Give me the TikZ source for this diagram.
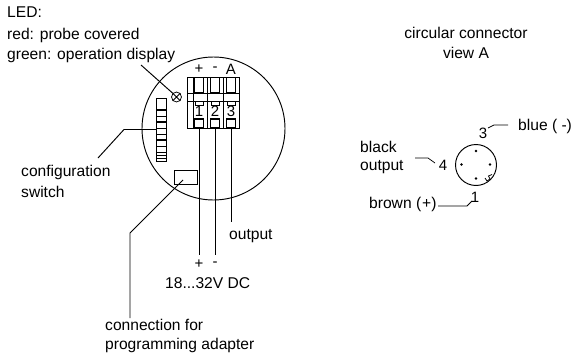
\documentclass[tikz,border=0pt]{standalone}
\usepackage{fontspec}
\setmainfont{Liberation Sans}
\tikzset{
 lbl/.style={inner sep=0pt,anchor=west,font=\fontsize{15.6}{18}\selectfont},
 ctr/.style={inner sep=0pt,anchor=center,font=\fontsize{15.6}{18}\selectfont},
 sm/.style={inner sep=0pt,anchor=center,font=\fontsize{15}{18}\selectfont},
 ln/.style={line width=0.95pt,black},
 thin1/.style={line width=0.75pt,black},
}
\begin{document}
\begin{tikzpicture}[x=1pt,y=-1pt]
\useasboundingbox (0,0) rectangle (571,356);
\fill[white] (0,0) rectangle (571,356);
% labels
\node[lbl] (t1) at (7,12) {LED:};
\node[lbl] (t2) at (7,35) {red: probe covered};
\node[lbl] (t3) at (7,55) {green: operation display};
\node[lbl] (t4) at (21,172) {configuration};
\node[lbl] (t5) at (21,192) {switch};
\node[lbl] (t6) at (229,236) {output};
\node[sm] (p1) at (199,264) {+};
\node[sm] (p2) at (215,264) {-};
\node[lbl] (t7) at (165,283) {18...32V DC};
\node[lbl] (t8) at (105,325) {connection for};
\node[lbl] (t9) at (105,345) {programming adapter};
\node[ctr] (t10) at (466,33) {circular connector};
\node[ctr] (t11) at (466,53) {view A};
\node[lbl] (t12) at (518,126) {blue ( -)};
\node[lbl] (t13) at (360,147) {black};
\node[lbl] (t14) at (360,167) {output};
\node[lbl] (t15) at (369,204) {brown (\kern1pt+)};
\node[sm] (n3) at (483,133) {3};
\node[sm] (n4) at (443,165) {4};
\node[sm] (n1) at (475,197) {1};
% housing
\node[draw,ln,circle,minimum size=143pt,inner sep=0pt] (house) at (213.5,128.5) {};
% terminal block
\node[draw,ln,fill=white,minimum width=52pt,minimum height=51pt,inner sep=0pt] (tb) at (213,102.5) {};
\draw[thin1] (193,77)--(193,128) (207,77)--(207,128) (223,77)--(223,128);
\draw[thin1] (187,93)--(239,93) (187,101)--(239,101);
\foreach \cx/\lab/\sym in {199/1/+,215/2/-,231/3/A}{
  \node[draw,ln,minimum width=8.5pt,minimum height=15pt,inner sep=0pt,fill=white] at (\cx,84.5) {};
  \node[draw,thin1,minimum width=8pt,minimum height=4pt,inner sep=0pt] at (\cx,103) {};
  \node[draw,thin1,fill=white,minimum width=8.5pt,minimum height=9pt,inner sep=0pt] at (\cx,123) {};
  \draw[line width=1.2pt] (\cx-4.2,119)--(\cx+4.2,119);
  \node[sm,fill=white,inner sep=0.3pt] at (\cx,111.5) {\lab};
  \node[sm] at (\cx,69) {\sym};
}
\draw[thin1] (187,128)--(239,128);
% wires
\coordinate (w1) at (199,255);
\coordinate (w2) at (215,255);
\coordinate (w3) at (231,222);
\draw[ln] (199,128)--(w1);
\draw[ln] (215,128)--(w2);
\draw[ln] (231,128)--(w3);
% LED
\node[draw,thin1,circle,minimum size=10pt,inner sep=0pt,fill=white] (led) at (176.5,97) {};
\draw[thin1] (led.north west)--(led.south east) (led.north east)--(led.south west);
\coordinate (ledend) at (141,65);
\draw[ln] (ledend)--(led.north west);
% switch
\node[draw,thin1,fill=white,minimum width=9.5pt,minimum height=63pt,inner sep=0pt] (sw) at (161.3,129.5) {};
\foreach \yy in {110,116,122,128,134,140,146,152,155,158}{
  \draw[thin1] (156.5,\yy)--(166,\yy);
}
\draw[line width=1.2pt] (156.5,110)--(166,110) (156.5,122)--(166,122) (156.5,140)--(166,140);
\coordinate (swa) at (124,129.5);
\coordinate (swb) at (98,158);
\draw[ln] (sw.west) -- (swa) -- (swb);
% adapter
\node[draw,thin1,fill=white,minimum width=23pt,minimum height=14pt,inner sep=0pt] (ad) at (185.5,177) {};
\coordinate (ada) at (183,180);
\coordinate (adb) at (130,233);
\coordinate (adc) at (130,318);
\draw[ln] (ada)--(adb)--(adc);
\draw[ln] (199,170)--(199,184);
% connector
\node[draw,ln,circle,minimum size=41pt,inner sep=0pt] (cc) at (476,165) {};
\foreach \px/\py in {476/151,461.5/164.5,490/164.5,476/178.5}{
  \fill (\px,\py) circle (1.4pt);
}
\draw[thin1,fill=white] (485,178)--(487,181)--(490,179)--(488.5,176)--(492,174.5);
\coordinate (b1) at (488,128); \coordinate (b2) at (494,125); \coordinate (b3) at (508,125);
\draw[thin1] (b1)--(b2)--(b3);
\coordinate (k1) at (415,158); \coordinate (k2) at (428,158); \coordinate (k3) at (435,163);
\draw[thin1] (k1)--(k2)--(k3);
\coordinate (r1) at (438,206); \coordinate (r2) at (467,206); \coordinate (r3) at (472,201);
\draw[thin1] (r1)--(r2)--(r3);
\end{tikzpicture}
\end{document}
